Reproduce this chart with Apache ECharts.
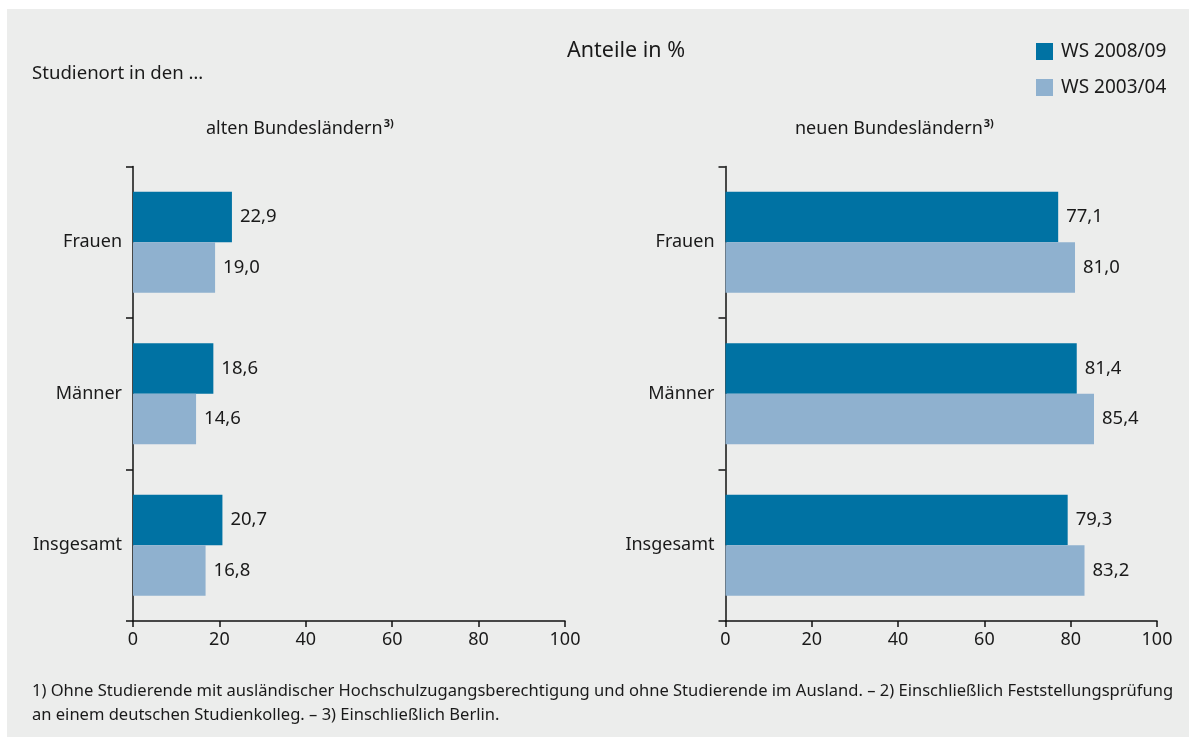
<!DOCTYPE html>
<html>
<head>
<meta charset="utf-8">
<script src="https://cdn.jsdelivr.net/npm/echarts@6/dist/echarts.min.js"></script>
<style>
html,body{margin:0;padding:0;background:#ffffff;}
#c{width:1189px;height:742px;}
</style>
</head>
<body>
<div id="c"></div>
<script>
var categories = ['Frauen', 'Männer', 'Insgesamt'];
var alt2008 = [22.9, 18.6, 20.7];
var alt2003 = [19.0, 14.6, 16.8];
var neu2008 = [77.1, 81.4, 79.3];
var neu2003 = [81.0, 85.4, 83.2];
var seriesNames = ['WS 2008/09', 'WS 2003/04'];
var xTicks = [0, 20, 40, 60, 80, 100];

var FONT = 'Noto Sans';
var TXT = '#1a1a1a';
var DARK = '#0072a3';
var LIGHT = '#8fb1cf';

function fmt(v) { return v.toFixed(1).replace('.', ','); }

var chart = echarts.init(document.getElementById('c'), null, {renderer: 'canvas'});

function xAxis(idx) {
  return {
    gridIndex: idx, type: 'value', min: xTicks[0], max: xTicks[xTicks.length - 1], interval: 20,
    axisLine: {show: true, lineStyle: {color: '#111111', width: 1.5}},
    axisTick: {show: true, length: 6, lineStyle: {color: '#111111', width: 1.5}},
    splitLine: {show: false},
    axisLabel: {fontFamily: FONT, fontSize: 18, color: TXT, margin: 10}
  };
}
function yAxis(idx) {
  return {
    gridIndex: idx, type: 'category', data: categories, inverse: true,
    axisLine: {show: true, lineStyle: {color: '#111111', width: 1.5}},
    axisTick: {show: true, length: 7, lineStyle: {color: '#111111', width: 1.5}},
    axisLabel: {fontFamily: FONT, fontSize: 18, color: TXT, margin: 11}
  };
}
function bar(name, data, color, idx) {
  return {
    name: name, type: 'bar', xAxisIndex: idx, yAxisIndex: idx, data: data,
    barGap: '0%', barCategoryGap: '33.4%',
    itemStyle: {color: color},
    label: {show: true, position: 'right', distance: 8, fontFamily: FONT, fontSize: 18.5, color: TXT,
      formatter: function (p) { return fmt(p.value); }},
    emphasis: {disabled: true},
    animation: false
  };
}
var richSup = {
  n: {fontFamily: FONT, fontSize: 18, fontWeight: 'normal', color: TXT, lineHeight: 24},
  s: {fontFamily: FONT, fontSize: 11, fontWeight: 'bold', color: TXT, lineHeight: 24, padding: [0, 0, 10, 1]}
};

chart.setOption({
  animation: false,
  backgroundColor: 'transparent',
  graphic: [{
    type: 'rect', z: -10, silent: true,
    shape: {x: 7, y: 9, width: 1189, height: 728},
    style: {fill: '#ecedec'}
  }],
  title: [
    {text: 'Anteile in %', left: 567, top: 39, padding: 0, textStyle: {fontFamily: FONT, fontSize: 21.5, fontWeight: 'normal', color: TXT, lineHeight: 24}},
    {text: 'Studienort in den …', left: 32, top: 62, padding: 0, textStyle: {fontFamily: FONT, fontSize: 18.6, fontWeight: 'normal', color: TXT, lineHeight: 24}},
    {text: '{n|alten Bundesländern}{s|3)}', left: 206, top: 117, padding: 0, textStyle: {fontWeight: 'normal', rich: richSup}},
    {text: '{n|neuen Bundesländern}{s|3)}', left: 795, top: 117, padding: 0, textStyle: {fontWeight: 'normal', rich: richSup}},
    {text: '1) Ohne Studierende mit ausländischer Hochschulzugangsberechtigung und ohne Studierende im Ausland. – 2) Einschließlich Feststellungsprüfung\nan einem deutschen Studienkolleg. – 3) Einschließlich Berlin.',
      left: 32, top: 679, padding: 0, textStyle: {fontFamily: FONT, fontSize: 16.55, fontWeight: 'normal', color: TXT, lineHeight: 24}}
  ],
  legend: {
    data: seriesNames, orient: 'vertical', left: 1036, top: 42, padding: 0,
    itemWidth: 17, itemHeight: 17, itemGap: 17, icon: 'rect',
    textStyle: {fontFamily: FONT, fontSize: 19, color: TXT, padding: [0, 0, 0, 3]},
    selectedMode: false
  },
  grid: [
    {left: 133, top: 166.5, width: 432, height: 454.5},
    {left: 725.5, top: 166.5, width: 431.5, height: 454.5}
  ],
  xAxis: [xAxis(0), xAxis(1)],
  yAxis: [yAxis(0), yAxis(1)],
  series: [
    bar(seriesNames[0], alt2008, DARK, 0),
    bar(seriesNames[1], alt2003, LIGHT, 0),
    bar(seriesNames[0], neu2008, DARK, 1),
    bar(seriesNames[1], neu2003, LIGHT, 1)
  ]
});
</script>
</body>
</html>
